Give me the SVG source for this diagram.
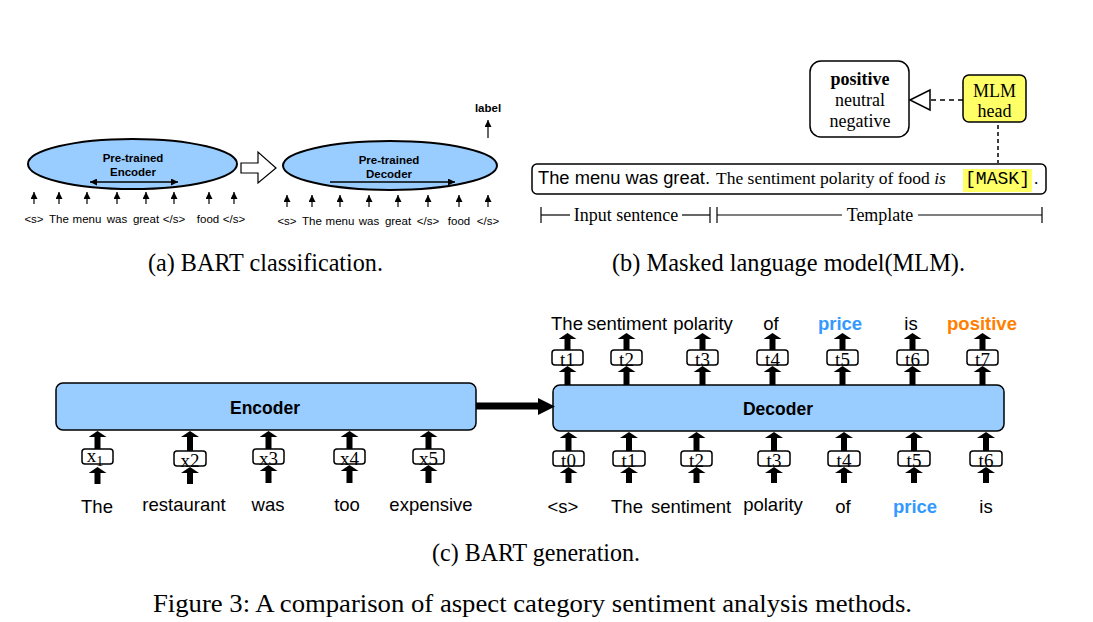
<svg xmlns="http://www.w3.org/2000/svg" width="1093" height="622" viewBox="0 0 1093 622">
<style>
.sans{font-family:"Liberation Sans",Arial,sans-serif}
.serif{font-family:"Liberation Serif","Times New Roman",serif}
.mono{font-family:"Liberation Mono","Courier New",monospace}
.tok{font-family:"Liberation Sans",Arial,sans-serif;font-size:11.5px;text-anchor:middle}
.ell{fill:#99ccff;stroke:#000;stroke-width:2}
.blk{fill:#99ccff;stroke:#000;stroke-width:1.5}
.sm{fill:#fff;stroke:#000;stroke-width:1.5}
.lbl{font-family:"Liberation Serif","Times New Roman",serif;font-size:19px;text-anchor:middle}
.word{font-family:"Liberation Sans",Arial,sans-serif;font-size:18.5px;text-anchor:middle}
.thin{stroke:#000;stroke-width:1.2;fill:none;marker-end:url(#sa)}
.thick{stroke:#000;stroke-width:6;fill:none;marker-end:url(#ta)}
.cap{font-family:"Liberation Serif","Times New Roman",serif;font-size:26px;text-anchor:middle}
</style>
<defs>
<marker id="sa" viewBox="0 0 10 10" refX="10" refY="5" markerUnits="userSpaceOnUse" markerWidth="7" markerHeight="7" orient="auto-start-reverse"><path d="M0,0 L10,5 L0,10 z" fill="#000"/></marker>
<marker id="ta" viewBox="0 0 6 18" refX="0" refY="9" markerUnits="userSpaceOnUse" markerWidth="6" markerHeight="18" orient="auto"><path d="M0,0 L6,9 L0,18 z" fill="#000"/></marker>
</defs>
<rect width="1093" height="622" fill="#fff"/>

<!-- Panel (a) -->
<g id="pretrained-encoder">
<ellipse class="ell" cx="132.5" cy="164" rx="104.5" ry="25"/>
<text class="sans" x="133" y="162" font-size="11.5" font-weight="bold" text-anchor="middle">Pre-trained</text>
<text class="sans" x="133" y="176" font-size="11.5" font-weight="bold" text-anchor="middle">Encoder</text>
<line x1="90" y1="182" x2="178" y2="182" stroke="#000" stroke-width="1.5" marker-start="url(#sa)" marker-end="url(#sa)"/>
</g>
<g id="pretrained-decoder">
<ellipse class="ell" cx="390" cy="165.5" rx="107" ry="24.5"/>
<text class="sans" x="389" y="164" font-size="11.5" font-weight="bold" text-anchor="middle">Pre-trained</text>
<text class="sans" x="389" y="178" font-size="11.5" font-weight="bold" text-anchor="middle">Decoder</text>
<line x1="330" y1="182" x2="455" y2="182" stroke="#000" stroke-width="1.5" marker-end="url(#sa)"/>
</g>
<g id="enc-tokens">
<text class="tok" x="34" y="223">&lt;s&gt;</text>
<text class="tok" x="59" y="223">The</text>
<text class="tok" x="87" y="223">menu</text>
<text class="tok" x="117" y="223">was</text>
<text class="tok" x="146" y="223">great</text>
<text class="tok" x="174" y="223">&lt;/s&gt;</text>
<text class="tok" x="208" y="223">food</text>
<text class="tok" x="234" y="223">&lt;/s&gt;</text>
</g>
<g id="dec-tokens">
<text class="tok" x="287" y="225">&lt;s&gt;</text>
<text class="tok" x="312" y="225">The</text>
<text class="tok" x="340" y="225">menu</text>
<text class="tok" x="369" y="225">was</text>
<text class="tok" x="398" y="225">great</text>
<text class="tok" x="428" y="225">&lt;/s&gt;</text>
<text class="tok" x="459" y="225">food</text>
<text class="tok" x="488" y="225">&lt;/s&gt;</text>
</g>
<g id="label">
<text class="sans" x="488" y="112" font-size="11.5" font-weight="bold" text-anchor="middle">label</text>
</g>

<!-- Panel (b) -->
<g id="labels-box">
<rect x="810" y="61" width="99" height="76" rx="11" fill="#fff" stroke="#000" stroke-width="1.5"/>
<text class="serif" x="860" y="85" font-size="18" font-weight="bold" text-anchor="middle">positive</text>
<text class="serif" x="860" y="106" font-size="18" text-anchor="middle">neutral</text>
<text class="serif" x="860" y="127" font-size="18" text-anchor="middle">negative</text>
</g>
<g id="mlm-head">
<rect x="963" y="75" width="63" height="47" rx="6" fill="#ffff66" stroke="#000" stroke-width="1.5"/>
<text class="serif" x="994.5" y="97" font-size="18" text-anchor="middle">MLM</text>
<text class="serif" x="994.5" y="117" font-size="18" text-anchor="middle">head</text>
</g>
<g id="sentence">
<rect x="532" y="164" width="514" height="30" rx="5" fill="#fff" stroke="#000" stroke-width="1.5"/>
<text class="sans" x="538" y="184" font-size="18" textLength="172" lengthAdjust="spacingAndGlyphs">The menu was great.</text>
<text class="serif" x="716" y="184" font-size="17.5">The sentiment polarity of food <tspan font-style="italic">is</tspan></text>
<rect x="963" y="169" width="69" height="23" fill="#ffff66"/>
<text class="mono" x="965" y="184" font-size="18" textLength="65" lengthAdjust="spacingAndGlyphs">[MASK]</text>
<text class="serif" x="1034" y="184" font-size="17.5">.</text>
</g>
<g id="span-brackets">
<line x1="541" y1="215" x2="570" y2="215" stroke="#000" stroke-width="1.2"/>
<line x1="682" y1="215" x2="710" y2="215" stroke="#000" stroke-width="1.2"/>
<line x1="541" y1="207" x2="541" y2="223" stroke="#000" stroke-width="1.2"/>
<line x1="710" y1="207" x2="710" y2="223" stroke="#000" stroke-width="1.2"/>
<text class="serif" x="626" y="221" font-size="18" text-anchor="middle">Input sentence</text>
<line x1="717" y1="207" x2="717" y2="223" stroke="#000" stroke-width="1.2"/>
<line x1="717" y1="215" x2="842" y2="215" stroke="#000" stroke-width="1.2"/>
<text class="serif" x="880" y="221" font-size="18" text-anchor="middle">Template</text>
<line x1="918" y1="215" x2="1042" y2="215" stroke="#000" stroke-width="1.2"/>
<line x1="1042" y1="207" x2="1042" y2="223" stroke="#000" stroke-width="1.2"/>
</g>

<!-- Panel (c) -->
<g id="encoder">
<rect class="blk" x="56" y="383" width="420" height="47" rx="7"/>
<text class="sans" x="265" y="414" font-size="17.5" font-weight="bold" text-anchor="middle">Encoder</text>
</g>
<g id="decoder">
<rect class="blk" x="553" y="385" width="451" height="46" rx="7"/>
<text class="sans" x="778" y="415" font-size="17.5" font-weight="bold" text-anchor="middle">Decoder</text>
</g>
<g id="x-boxes">
<rect class="sm" x="82" y="449" width="31" height="15" rx="3"/>
<text class="lbl" x="95" y="462">x<tspan font-size="14" dy="4">1</tspan></text>
<rect class="sm" x="174" y="451" width="32" height="15" rx="3"/>
<text class="lbl" x="190" y="467">x2</text>
<rect class="sm" x="253" y="449" width="31" height="15" rx="3"/>
<text class="lbl" x="268.5" y="465">x3</text>
<rect class="sm" x="334" y="449" width="31" height="15" rx="3"/>
<text class="lbl" x="349.5" y="465">x4</text>
<rect class="sm" x="413" y="449" width="31" height="15" rx="3"/>
<text class="lbl" x="428.5" y="465">x5</text>
</g>
<g id="t-out-boxes">
<rect class="sm" x="552" y="350" width="31" height="15" rx="3"/><text class="lbl" x="567.5" y="366">t1</text>
<rect class="sm" x="611" y="350" width="31" height="15" rx="3"/><text class="lbl" x="626.5" y="366">t2</text>
<rect class="sm" x="687" y="350" width="31" height="15" rx="3"/><text class="lbl" x="702.5" y="366">t3</text>
<rect class="sm" x="757" y="350" width="31" height="15" rx="3"/><text class="lbl" x="772.5" y="366">t4</text>
<rect class="sm" x="827" y="350" width="31" height="15" rx="3"/><text class="lbl" x="842.5" y="366">t5</text>
<rect class="sm" x="897" y="350" width="31" height="15" rx="3"/><text class="lbl" x="912.5" y="366">t6</text>
<rect class="sm" x="967" y="350" width="31" height="15" rx="3"/><text class="lbl" x="982.5" y="366">t7</text>
</g>
<g id="t-in-boxes">
<rect class="sm" x="553" y="451" width="31" height="15" rx="3"/><text class="lbl" x="568.5" y="467">t0</text>
<rect class="sm" x="613" y="451" width="32" height="15" rx="3"/><text class="lbl" x="629" y="467">t1</text>
<rect class="sm" x="681" y="451" width="31" height="15" rx="3"/><text class="lbl" x="696.5" y="467">t2</text>
<rect class="sm" x="758" y="451" width="32" height="15" rx="3"/><text class="lbl" x="774" y="467">t3</text>
<rect class="sm" x="828" y="451" width="32" height="15" rx="3"/><text class="lbl" x="844" y="467">t4</text>
<rect class="sm" x="898" y="451" width="32" height="15" rx="3"/><text class="lbl" x="914" y="467">t5</text>
<rect class="sm" x="970" y="451" width="32" height="15" rx="3"/><text class="lbl" x="986" y="467">t6</text>
</g>
<g id="enc-words">
<text class="word" x="97" y="513">The</text>
<text class="word" x="184" y="511">restaurant</text>
<text class="word" x="268" y="511">was</text>
<text class="word" x="347" y="511">too</text>
<text class="word" x="431" y="511">expensive</text>
</g>
<g id="dec-in-words">
<text class="word" x="563" y="513">&lt;s&gt;</text>
<text class="word" x="627" y="513">The</text>
<text class="word" x="691" y="513">sentiment</text>
<text class="word" x="773" y="511">polarity</text>
<text class="word" x="843" y="513">of</text>
<text class="word" x="915" y="513" font-weight="bold" fill="#3399ff">price</text>
<text class="word" x="986" y="513">is</text>
</g>
<g id="dec-out-words">
<text class="word" x="567" y="330">The</text>
<text class="word" x="627" y="330">sentiment</text>
<text class="word" x="703" y="330">polarity</text>
<text class="word" x="771" y="330">of</text>
<text class="word" x="840" y="330" font-weight="bold" fill="#3399ff">price</text>
<text class="word" x="911" y="330">is</text>
<text class="word" x="982" y="330" font-weight="bold" fill="#ff8000">positive</text>
</g>

<g id="connectors">
<!-- panel (a) -->
<path d="M241,163 L258,163 L258,152 L276,168 L258,183 L258,173 L241,173 Z" fill="#fff" stroke="#000" stroke-width="1.2"/>
<line class="thin" x1="34" y1="204" x2="34" y2="192"/>
<line class="thin" x1="59" y1="204" x2="59" y2="192"/>
<line class="thin" x1="87" y1="204" x2="87" y2="192"/>
<line class="thin" x1="117" y1="204" x2="117" y2="192"/>
<line class="thin" x1="146" y1="204" x2="146" y2="192"/>
<line class="thin" x1="174" y1="204" x2="174" y2="192"/>
<line class="thin" x1="209" y1="204" x2="209" y2="192"/>
<line class="thin" x1="234" y1="204" x2="234" y2="192"/>
<line class="thin" x1="287" y1="207" x2="287" y2="195"/>
<line class="thin" x1="312" y1="207" x2="312" y2="195"/>
<line class="thin" x1="340" y1="207" x2="340" y2="195"/>
<line class="thin" x1="369" y1="207" x2="369" y2="195"/>
<line class="thin" x1="398" y1="207" x2="398" y2="195"/>
<line class="thin" x1="428" y1="207" x2="428" y2="195"/>
<line class="thin" x1="459" y1="207" x2="459" y2="195"/>
<line class="thin" x1="488" y1="207" x2="488" y2="195"/>
<line class="thin" x1="488" y1="138" x2="488" y2="120"/>
<!-- panel (b) -->
<line x1="963" y1="100" x2="930" y2="100" stroke="#000" stroke-width="1.5" stroke-dasharray="5,4"/>
<polygon points="910,100 930,90 930,110" fill="#fff" stroke="#000" stroke-width="1.5"/>
<line x1="998" y1="125" x2="998" y2="163" stroke="#000" stroke-width="1.5" stroke-dasharray="4,3"/>
<!-- panel (c) encoder inputs -->
<line class="thick" x1="97.5" y1="449" x2="97.5" y2="437"/>
<line class="thick" x1="190" y1="451" x2="190" y2="437"/>
<line class="thick" x1="268.5" y1="449" x2="268.5" y2="437"/>
<line class="thick" x1="349.5" y1="449" x2="349.5" y2="437"/>
<line class="thick" x1="428.5" y1="449" x2="428.5" y2="437"/>
<line class="thick" x1="97.5" y1="484" x2="97.5" y2="473"/>
<line class="thick" x1="190" y1="484" x2="190" y2="473"/>
<line class="thick" x1="268.5" y1="483" x2="268.5" y2="471"/>
<line class="thick" x1="349.5" y1="483" x2="349.5" y2="471"/>
<line class="thick" x1="428.5" y1="483" x2="428.5" y2="471"/>
<!-- encoder to decoder -->
<line x1="476" y1="406" x2="540" y2="406" stroke="#000" stroke-width="7"/>
<polygon points="538,398 555,406.5 538,415" fill="#000"/>
<!-- decoder outputs -->
<line class="thick" x1="567.5" y1="385" x2="567.5" y2="372"/>
<line class="thick" x1="626.5" y1="385" x2="626.5" y2="372"/>
<line class="thick" x1="702.5" y1="385" x2="702.5" y2="372"/>
<line class="thick" x1="772.5" y1="385" x2="772.5" y2="372"/>
<line class="thick" x1="842.5" y1="385" x2="842.5" y2="372"/>
<line class="thick" x1="912.5" y1="385" x2="912.5" y2="372"/>
<line class="thick" x1="982.5" y1="385" x2="982.5" y2="372"/>
<line class="thick" x1="567.5" y1="350" x2="567.5" y2="339"/>
<line class="thick" x1="626.5" y1="350" x2="626.5" y2="339"/>
<line class="thick" x1="702.5" y1="350" x2="702.5" y2="339"/>
<line class="thick" x1="772.5" y1="350" x2="772.5" y2="339"/>
<line class="thick" x1="842.5" y1="350" x2="842.5" y2="339"/>
<line class="thick" x1="912.5" y1="350" x2="912.5" y2="339"/>
<line class="thick" x1="982.5" y1="350" x2="982.5" y2="339"/>
<!-- decoder inputs -->
<line class="thick" x1="568.5" y1="451" x2="568.5" y2="438"/>
<line class="thick" x1="629" y1="451" x2="629" y2="438"/>
<line class="thick" x1="696.5" y1="451" x2="696.5" y2="438"/>
<line class="thick" x1="774" y1="451" x2="774" y2="438"/>
<line class="thick" x1="844" y1="451" x2="844" y2="438"/>
<line class="thick" x1="914" y1="451" x2="914" y2="438"/>
<line class="thick" x1="986" y1="451" x2="986" y2="438"/>
<line class="thick" x1="568.5" y1="483" x2="568.5" y2="473"/>
<line class="thick" x1="629" y1="483" x2="629" y2="473"/>
<line class="thick" x1="696.5" y1="483" x2="696.5" y2="473"/>
<line class="thick" x1="774" y1="483" x2="774" y2="473"/>
<line class="thick" x1="844" y1="483" x2="844" y2="473"/>
<line class="thick" x1="914" y1="483" x2="914" y2="473"/>
<line class="thick" x1="986" y1="483" x2="986" y2="473"/>
</g>

<g id="captions">
<text class="cap" x="265.5" y="271" textLength="235" lengthAdjust="spacingAndGlyphs">(a)  BART classification.</text>
<text class="cap" x="788.5" y="271" textLength="353" lengthAdjust="spacingAndGlyphs">(b)  Masked language model(MLM).</text>
<text class="cap" x="536" y="561" textLength="208" lengthAdjust="spacingAndGlyphs">(c)  BART generation.</text>
<text class="cap" x="532.5" y="612" font-size="27" textLength="759" lengthAdjust="spacingAndGlyphs">Figure 3: A comparison of aspect category sentiment analysis methods.</text>
</g>
</svg>
